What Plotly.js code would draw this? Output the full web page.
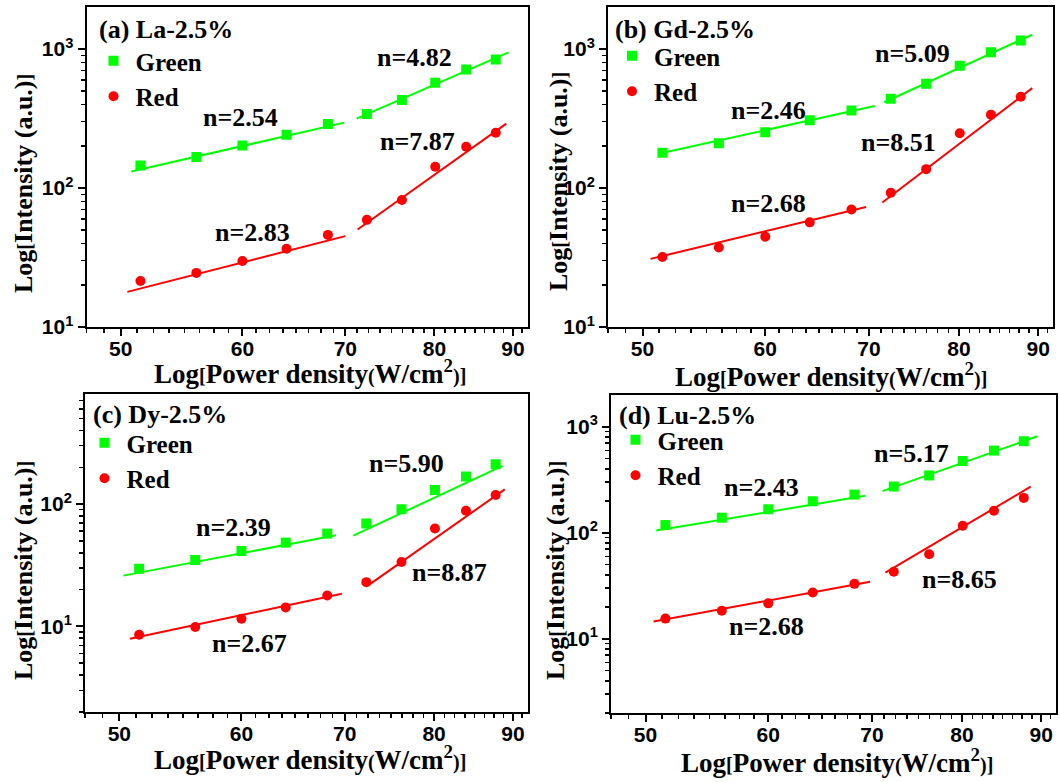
<!DOCTYPE html>
<html>
<head>
<meta charset="utf-8">
<script src="https://cdn.plot.ly/plotly-3.0.1.min.js"></script>
<style>
  html, body { margin: 0; padding: 0; background: #ffffff; }
  #chart { width: 1060px; height: 782px; }
</style>
</head>
<body>
<div id="chart"></div>
<script>
// Excitation power density (W/cm^2), shared by all four samples
const powerDensity = [51.5, 56.0, 60.0, 64.1, 68.2, 72.3, 76.2, 80.1, 83.9, 87.7];
const xTickValues = [50, 60, 70, 80, 90];
const panelNames = ['(a) La-2.5%', '(b) Gd-2.5%', '(c) Dy-2.5%', '(d) Lu-2.5%'];
const seriesNames = ['Green', 'Red'];

// Emission intensities (a.u.)
const laGreen = [145, 167, 202, 242, 289, 341, 430, 571, 713, 842];
const laRed   = [21.4, 24.5, 29.8, 36.6, 46.0, 59.0, 81.9, 142, 198, 250];
const gdGreen = [179, 210, 252, 307, 361, 438, 563, 757, 946, 1149];
const gdRed   = [31.9, 37.3, 44.6, 56.6, 70.0, 92.5, 136.7, 248, 337, 453];
const dyGreen = [29.6, 34.9, 41.3, 48.4, 57.4, 69.4, 90.9, 130.4, 167.8, 211.8];
const dyRed   = [8.54, 9.87, 11.56, 14.3, 17.9, 23.0, 33.6, 63.1, 88.1, 118.6];
const luGreen = [118.3, 138.8, 166.6, 198.4, 229.5, 273.3, 347.7, 475.6, 596, 731];
const luRed   = [15.5, 18.4, 21.6, 27.3, 33.0, 42.9, 62.7, 116.5, 161.7, 213.4];

// Power-law fits I ~ P^n; order: green low, green high, red low, red high
const laSlope = [2.54, 4.82, 2.83, 7.87];
const gdSlope = [2.46, 5.09, 2.68, 8.51];
const dySlope = [2.39, 5.90, 2.67, 8.87];
const luSlope = [2.43, 5.17, 2.68, 8.65];

// fit segment extents (power density) and intensity at the segment's geometric middle
const laFitStart = [50.8, 71.2, 50.5, 71.3];
const laFitEnd   = [69.9, 89.4, 70.0, 89.1];
const laFitMid   = [197, 546, 28.4, 120.8];
const gdFitStart = [51.2, 71.6, 50.6, 71.4];
const gdFitEnd   = [70.6, 89.2, 69.7, 89.2];
const gdFitMid   = [262, 724, 47.5, 203];
const dyFitStart = [50.3, 70.9, 50.8, 72.5];
const dyFitEnd   = [69.1, 88.6, 69.7, 88.9];
const dyFitMid   = [38.0, 106.4, 12.1, 53.4];
const luFitStart = [50.8, 71.1, 50.6, 71.4];
const luFitEnd   = [69.3, 89.5, 69.8, 88.6];
const luFitMid   = [153, 448.6, 22.4, 107];

// where each "n=" label sits (power density, intensity)
const laLabelX = [59.8, 77.6, 60.9, 78.0];
const laLabelY = [320, 871, 48.1, 217.5];
const gdLabelX = [60.25, 74.7, 60.25, 73.1];
const gdLabelY = [362, 930, 76.9, 212];
const dyLabelX = [59.3, 76.8, 60.7, 81.85];
const dyLabelY = [64.3, 216, 7.3, 27.4];
const luLabelX = [59.4, 74.2, 59.8, 79.7];
const luLabelY = [269, 566, 13.1, 36.3];

const GREEN = '#00ff00';
const RED = '#ff0000';
const SERIF = 'Liberation Serif, Times New Roman, serif';
const SANS = 'Liberation Sans, Arial, sans-serif';
const W = 1060, H = 782;

const panels = [
  { name: panelNames[0], green: laGreen, red: laRed, slope: laSlope, fs: laFitStart, fe: laFitEnd, fm: laFitMid, lx: laLabelX, ly: laLabelY,
    box: [86.5, 527.7, 7.3, 327], yRange: [1, 3.3], titleAt: [96.5, 30], legendAt: [111.5, 64],
    yTitleAt: [23, 184], xTitleAt: [310, 372] },
  { name: panelNames[1], green: gdGreen, red: gdRed, slope: gdSlope, fs: gdFitStart, fe: gdFitEnd, fm: gdFitMid, lx: gdLabelX, ly: gdLabelY,
    box: [608, 1053, 7.3, 327], yRange: [1, 3.3], titleAt: [612.5, 29], legendAt: [630, 59],
    yTitleAt: [558, 182], xTitleAt: [831, 375] },
  { name: panelNames[2], green: dyGreen, red: dyRed, slope: dySlope, fs: dyFitStart, fe: dyFitEnd, fm: dyFitMid, lx: dyLabelX, ly: dyLabelY,
    box: [85, 527.7, 394, 712], yRange: [0.3, 2.9], titleAt: [90.5, 414], legendAt: [102.5, 446],
    yTitleAt: [23, 571], xTitleAt: [310, 758] },
  { name: panelNames[3], green: luGreen, red: luRed, slope: luSlope, fs: luFitStart, fe: luFitEnd, fm: luFitMid, lx: luLabelX, ly: luLabelY,
    box: [611, 1056, 395, 713], yRange: [0.3, 3.3], titleAt: [617, 415], legendAt: [633.5, 443],
    yTitleAt: [555, 571], xTitleAt: [837, 761] }
];

// axis decoration
const xMinor = [];
for (let v = 47.5; v <= 92.01; v += 1.25) xMinor.push(+v.toFixed(2));
const yMinor = [];
for (let d = 1; d <= 1000; d *= 10) for (let m = 2; m <= 9; m++) yMinor.push(m * d);

function fitSegments(fs, fe, fm, slope, idx) {
  const x = [], y = [];
  idx.forEach((i, k) => {
    const xm = Math.sqrt(fs[i] * fe[i]);
    if (k > 0) { x.push(null); y.push(null); }
    x.push(fs[i], fe[i]);
    y.push(fm[i] * Math.pow(fs[i] / xm, slope[i]), fm[i] * Math.pow(fe[i] / xm, slope[i]));
  });
  return { x, y };
}

const traces = [];
const annotations = [];
const layout = {
  width: W, height: H,
  margin: { l: 0, r: 0, t: 0, b: 0 },
  paper_bgcolor: '#ffffff',
  plot_bgcolor: '#ffffff',
  showlegend: true,
  font: { family: SERIF, color: '#000000' }
};

const small = s => '<span style="font-size:20px">' + s + '</span>';

panels.forEach((p, i) => {
  const n = i + 1;
  const sfx = n === 1 ? '' : String(n);
  const xa = 'x' + sfx, ya = 'y' + sfx;
  const legendId = 'legend' + sfx;
  const [L, R, T, B] = p.box;

  const gFit = fitSegments(p.fs, p.fe, p.fm, p.slope, [0, 1]);
  const rFit = fitSegments(p.fs, p.fe, p.fm, p.slope, [2, 3]);
  traces.push({ x: gFit.x, y: gFit.y, xaxis: xa, yaxis: ya, mode: 'lines', line: { color: GREEN, width: 2 }, showlegend: false, hoverinfo: 'skip' });
  traces.push({ x: rFit.x, y: rFit.y, xaxis: xa, yaxis: ya, mode: 'lines', line: { color: RED, width: 2 }, showlegend: false, hoverinfo: 'skip' });
  traces.push({ x: powerDensity, y: p.green, xaxis: xa, yaxis: ya, name: seriesNames[0], legend: legendId, mode: 'markers',
    marker: { symbol: 'square', size: 10, color: GREEN } });
  traces.push({ x: powerDensity, y: p.red, xaxis: xa, yaxis: ya, name: seriesNames[1], legend: legendId, mode: 'markers',
    marker: { symbol: 'circle', size: 10, color: RED } });

  const axisCommon = {
    type: 'log', showline: true, linecolor: '#000', linewidth: 2, mirror: true,
    ticks: 'outside', ticklen: 7, tickwidth: 2, tickcolor: '#000',
    showgrid: false, zeroline: false, fixedrange: true,
    tickfont: { family: SANS, size: 21, weight: 'bold', color: '#000' }
  };
  layout['xaxis' + sfx] = Object.assign({}, axisCommon, {
    domain: [L / W, R / W], anchor: ya,
    range: [Math.log10(47.5), Math.log10(92)],
    tickmode: 'array', tickvals: xTickValues, ticktext: xTickValues.map(String),
    ticklabelstandoff: -5,
    minor: { tickmode: 'array', tickvals: xMinor, ticks: 'outside', ticklen: 4, tickwidth: 1.5, tickcolor: '#000' }
  });
  const yTicks = [1, 10, 100, 1000];
  layout['yaxis' + sfx] = Object.assign({}, axisCommon, {
    domain: [1 - B / H, 1 - T / H], anchor: xa,
    range: p.yRange,
    tickmode: 'array', tickvals: yTicks, ticktext: yTicks.map(v => '10<sup>' + Math.round(Math.log10(v)) + '</sup>'),
    minor: { tickmode: 'array', tickvals: yMinor, ticks: 'outside', ticklen: 4, tickwidth: 1.5, tickcolor: '#000' }
  });

  layout[legendId] = {
    x: (p.legendAt[0] - 20) / W, y: 1 - (p.legendAt[1] - 26) / H,
    xanchor: 'left', yanchor: 'top',
    itemwidth: 34,
    bgcolor: 'rgba(0,0,0,0)', borderwidth: 0,
    font: { family: SERIF, size: 25, weight: 'bold', color: '#000' }
  };

  // panel caption
  annotations.push({ xref: 'paper', yref: 'paper', x: p.titleAt[0] / W, y: 1 - p.titleAt[1] / H,
    xanchor: 'left', yanchor: 'middle', showarrow: false, text: p.name,
    font: { family: SERIF, size: 26, weight: 'bold', color: '#000' } });

  // slope labels
  p.slope.forEach((s, k) => {
    annotations.push({ xref: xa, yref: ya, x: Math.log10(p.lx[k]), y: Math.log10(p.ly[k]),
      showarrow: false, text: 'n=' + s.toFixed(2),
      font: { family: SERIF, size: 26, weight: 'bold', color: '#000' } });
  });

  // axis titles
  annotations.push({ xref: 'paper', yref: 'paper', x: p.yTitleAt[0] / W, y: 1 - p.yTitleAt[1] / H,
    xanchor: 'center', yanchor: 'middle', textangle: -90, showarrow: false,
    text: 'Log' + small('[') + 'Intensity (a.u.)' + small(']'),
    font: { family: SERIF, size: 26, weight: 'bold', color: '#000' } });
  annotations.push({ xref: 'paper', yref: 'paper', x: p.xTitleAt[0] / W, y: 1 - p.xTitleAt[1] / H,
    xanchor: 'center', yanchor: 'middle', showarrow: false,
    text: 'Log' + small('[') + 'Power density' + small('(') + 'W/cm<sup>2</sup>' + small(')]'),
    font: { family: SERIF, size: 27, weight: 'bold', color: '#000' } });
});

layout.annotations = annotations;

Plotly.newPlot('chart', traces, layout, { staticPlot: true, displayModeBar: false });
</script>
</body>
</html>
